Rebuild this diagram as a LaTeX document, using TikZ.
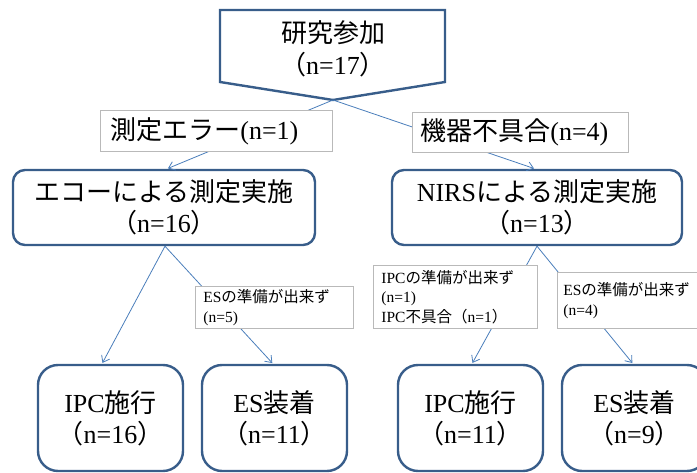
\documentclass[tikz,border=0pt]{standalone}
\usepackage{fontspec}
\setmainfont{Liberation Serif}
\newfontfamily\jpfont{Noto Sans CJK JP}
\newcommand\J[1]{{\jpfont #1}}
\usetikzlibrary{arrows.meta,calc}
\definecolor{boxblue}{RGB}{56,93,138}
\definecolor{linkblue}{RGB}{74,126,187}
\definecolor{lblgray}{RGB}{185,185,185}
\begin{document}
\begin{tikzpicture}[x=1pt,y=-1pt,
 mainbox/.style={draw=boxblue,line width=2.4pt,rounded corners=12pt,fill=white,align=center,font=\fontsize{26}{31}\selectfont,inner sep=0pt},
 endbox/.style={mainbox,rounded corners=20pt},
 biglabel/.style={draw=lblgray,line width=0.8pt,fill=white,align=left,anchor=north west,font=\fontsize{26}{31}\selectfont,inner ysep=0pt},
 smalllabel/.style={draw=lblgray,line width=0.8pt,fill=white,align=left,anchor=north west,font=\fontsize{15.5}{19.5}\selectfont,inner ysep=0pt},
 link/.style={draw=linkblue,line width=0.8pt},
 arrowlink/.style={link,shorten >=1pt,-{Straight Barb[length=6pt,width=9pt]}}
]
\useasboundingbox (0,0) rectangle (697,473);

% top pentagon
\draw[boxblue,line width=2.4pt,fill=white,line join=miter] (220,10) -- (445,10) -- (445,82) -- (333,100) -- (220,82) -- cycle;
\coordinate (tip) at (333,100);
\node[font=\fontsize{26}{32}\selectfont,align=center] (start) at (333,49) {\J{研究参加}\\\J{（}n=17\J{）}};

% main boxes
\node[mainbox,minimum width=302pt,minimum height=75pt] (echo) at (164,207.5) {\J{エコーによる測定実施}\\\J{（}n=16\J{）}};
\node[mainbox,minimum width=290pt,minimum height=75pt] (nirs) at (537,207.5) {NIRS\J{による測定実施}\\\J{（}n=13\J{）}};

% end boxes
\node[endbox,minimum width=145pt,minimum height=106pt] (ipcA) at (110.5,418) {IPC\J{施行}\\\J{（}n=16\J{）}};
\node[endbox,minimum width=145pt,minimum height=106pt] (esA) at (274.5,418) {ES\J{装着}\\\J{（}n=11\J{）}};
\node[endbox,minimum width=145pt,minimum height=106pt] (ipcB) at (470.5,418) {IPC\J{施行}\\\J{（}n=11\J{）}};
\node[endbox,minimum width=145pt,minimum height=106pt] (esB) at (634.5,418) {ES\J{装着}\\\J{（}n=9\J{）}};

% connectors
\draw[arrowlink] (tip) -- ($(echo.north)+(3,0)$);
\draw[arrowlink] (tip) -- ($(nirs.north)+(-2,0)$);
\draw[arrowlink] ($(echo.south)+(1,0)$) -- ($(ipcA.north)+(-8.5,0)$);
\draw[arrowlink] ($(echo.south)+(1,0)$) -- ($(esA.north)+(-1.5,0)$);
\draw[arrowlink] (nirs.south) -- ($(ipcB.north)+(1.5,0)$);
\draw[arrowlink] (nirs.south) -- ($(esB.north)+(-1.5,0)$);

% labels over connectors
\node[biglabel,text width=212pt,inner xsep=10pt,minimum height=41pt] (errLab) at (100,110) {\J{測定エラー}(n=1)};
\node[biglabel,text width=200pt,inner xsep=8pt,minimum height=40pt] (devLab) at (412,112) {\J{機器不具合}(n=4)};
\node[smalllabel,text width=142pt,inner xsep=8pt,minimum height=42pt] (esLabA) at (195,286) {ES\J{の準備が出来ず}\\(n=5)};
\node[smalllabel,text width=148pt,inner xsep=8pt,minimum height=63pt] (ipcLab) at (373,265) {IPC\J{の準備が出来ず}\\(n=1)\\IPC\J{不具合（}n=1\J{）}};
\node[smalllabel,text width=128pt,inner xsep=6pt,minimum height=56pt] (esLabB) at (557,272) {ES\J{の準備が出来ず}\\(n=4)};
\end{tikzpicture}
\end{document}
